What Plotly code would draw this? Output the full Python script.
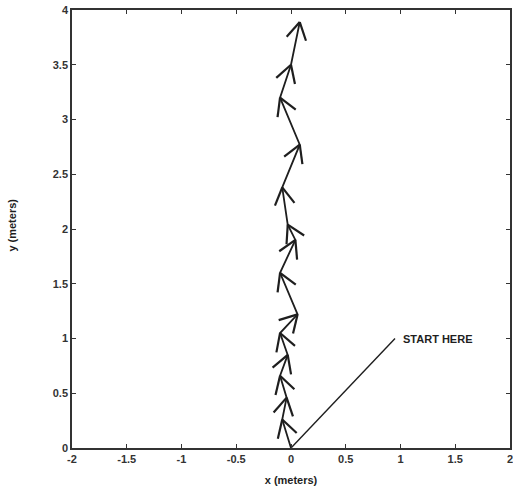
import numpy as np
import plotly.graph_objects as go

# path vertices (meters)
path_x = [0.0, -0.08, -0.04, -0.1, -0.03, -0.1, 0.06, -0.1, 0.04, -0.03, -0.08, 0.08, -0.1, 0.0, 0.08]
path_y = [0.0, 0.26, 0.46, 0.66, 0.85, 1.05, 1.22, 1.6, 1.9, 2.04, 2.38, 2.77, 3.2, 3.5, 3.89]

x_ticks = [-2, -1.5, -1, -0.5, 0, 0.5, 1, 1.5, 2]
y_ticks = [0, 0.5, 1, 1.5, 2, 2.5, 3, 3.5, 4]

start_label = "START HERE"
start_point = (0.0, 0.0)
label_point = (0.95, 1.0)

FONT = "Liberation Sans, Arial, sans-serif"
INK = "#1e1e1e"

fig = go.Figure()

# path
fig.add_trace(go.Scatter(x=path_x, y=path_y, mode="lines",
                         line=dict(color=INK, width=1.8), hoverinfo="skip"))

# chevron arrowheads at each vertex, computed from path direction
px = np.array(path_x)
py = np.array(path_y)
L = 0.18
th = np.deg2rad(30)
cx, cy = [], []
for i in range(1, len(px)):
    d = np.array([px[i] - px[i - 1], py[i] - py[i - 1]])
    d = d / np.linalg.norm(d)
    for s in (th, -th):
        r = np.array([d[0] * np.cos(s) - d[1] * np.sin(s),
                      d[0] * np.sin(s) + d[1] * np.cos(s)])
        cx += [px[i], px[i] - L * r[0], None]
        cy += [py[i], py[i] - L * r[1], None]
fig.add_trace(go.Scatter(x=cx, y=cy, mode="lines",
                         line=dict(color=INK, width=2.2), hoverinfo="skip"))

# START HERE pointer line
fig.add_trace(go.Scatter(x=[start_point[0], label_point[0]],
                         y=[start_point[1], label_point[1]], mode="lines",
                         line=dict(color=INK, width=1.4), hoverinfo="skip"))
fig.add_annotation(x=label_point[0] + 0.05, y=label_point[1], text="<b>" + start_label + "</b>",
                   showarrow=False, xanchor="left", yanchor="middle",
                   font=dict(family=FONT, size=11, color=INK))

# y-axis title
fig.add_annotation(xref="paper", yref="paper", x=-0.137, y=0.51, text="<b>y (meters)</b>",
                   textangle=-90, showarrow=False, xanchor="center", yanchor="middle",
                   font=dict(family=FONT, size=11, color=INK))

axis_common = dict(showgrid=False, zeroline=False, showline=True, linecolor="#333333",
                   linewidth=1.5, mirror="ticks", ticks="inside", ticklen=4,
                   tickcolor="#333333", tickwidth=1, automargin=False,
                   ticklabeloverflow="allow",
                   tickfont=dict(family=FONT, size=11, color="#333333"))

fig.update_xaxes(range=[-2, 2], tickvals=x_ticks,
                 ticktext=["<b>%g</b>" % v for v in x_ticks],
                 title=dict(text="<b>x (meters)</b>", font=dict(family=FONT, size=11, color=INK),
                            standoff=12),
                 **axis_common)
fig.update_yaxes(range=[0, 4], tickvals=y_ticks,
                 ticktext=["<b>%g</b>" % v for v in y_ticks],
                 **axis_common)

fig.update_layout(width=513, height=490, showlegend=False,
                  margin=dict(l=72, r=3, t=10, b=42),
                  plot_bgcolor="white", paper_bgcolor="white")

fig.write_html("out.html", config={"displayModeBar": False},
               post_script="document.body.style.margin='0';document.body.style.overflow='hidden';")
